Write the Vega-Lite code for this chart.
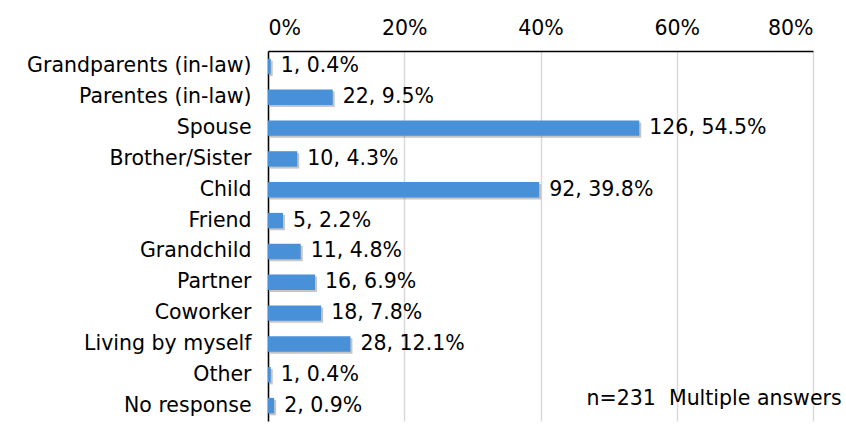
{
  "$schema": "https://vega.github.io/schema/vega-lite/v6.json",
  "autosize": {"type": "none"},
  "width": 545,
  "height": 370,
  "padding": {"left": 268, "top": 51, "right": 33, "bottom": 9},
  "background": "white",
  "config": {
    "view": {"stroke": null},
    "font": "DejaVu Sans",
    "text": {"font": "DejaVu Sans"}
  },
  "data": {
    "values": [
      {"category": "Grandparents (in-law)", "count": 1, "pct": 0.4},
      {"category": "Parentes (in-law)", "count": 22, "pct": 9.5},
      {"category": "Spouse", "count": 126, "pct": 54.5},
      {"category": "Brother/Sister", "count": 10, "pct": 4.3},
      {"category": "Child", "count": 92, "pct": 39.8},
      {"category": "Friend", "count": 5, "pct": 2.2},
      {"category": "Grandchild", "count": 11, "pct": 4.8},
      {"category": "Partner", "count": 16, "pct": 6.9},
      {"category": "Coworker", "count": 18, "pct": 7.8},
      {"category": "Living by myself", "count": 28, "pct": 12.1},
      {"category": "Other", "count": 1, "pct": 0.4},
      {"category": "No response", "count": 2, "pct": 0.9}
    ]
  },
  "encoding": {
    "y": {
      "field": "category",
      "type": "nominal",
      "sort": null,
      "scale": {"paddingInner": 0.5, "paddingOuter": 0.25},
      "axis": {
        "title": null,
        "ticks": false,
        "labelPadding": 17,
        "labelFontSize": 20.5,
        "labelLimit": 0,
        "labelColor": "#000000",
        "labelFont": "DejaVu Sans",
        "domainColor": "#000000",
        "domainWidth": 1.5,
        "grid": false
      }
    }
  },
  "layer": [
    {
      "mark": {"type": "bar", "color": "#7f7f7f", "opacity": 0.45, "xOffset": 2, "yOffset": 2},
      "encoding": {
        "x": {"field": "pct", "type": "quantitative"}
      }
    },
    {
      "mark": {"type": "bar", "color": "#4890d8"},
      "encoding": {
        "x": {
          "field": "pct",
          "type": "quantitative",
          "scale": {"domain": [0, 80], "nice": false},
          "axis": {
            "orient": "top",
            "title": null,
            "values": [0, 20, 40, 60, 80],
            "labelExpr": "datum.value + '%'",
            "ticks": false,
            "labelPadding": 13,
            "labelFontSize": 20.5,
            "labelColor": "#000000",
            "labelFont": "DejaVu Sans",
            "domainColor": "#000000",
            "domainWidth": 1.5,
            "gridColor": "#d9d9d9",
            "gridWidth": 1.5
          }
        }
      }
    },
    {
      "mark": {"type": "text", "align": "left", "dx": 10, "fontSize": 20.5, "color": "#000000", "font": "DejaVu Sans"},
      "encoding": {
        "x": {"field": "pct", "type": "quantitative"},
        "text": {"field": "label", "type": "nominal"}
      },
      "transform": [
        {"calculate": "datum.count + ', ' + format(datum.pct, '.1f') + '%'", "as": "label"}
      ]
    },
    {
      "data": {"values": [{"note": "n=231\u00a0 Multiple answers", "xpos": 84.2, "cat": "No response"}]},
      "mark": {"type": "text", "align": "right", "dy": -7, "fontSize": 20.5, "color": "#000000", "font": "DejaVu Sans"},
      "encoding": {
        "x": {"field": "xpos", "type": "quantitative"},
        "y": {"field": "cat", "type": "nominal", "sort": null},
        "text": {"field": "note", "type": "nominal"}
      }
    }
  ]
}
